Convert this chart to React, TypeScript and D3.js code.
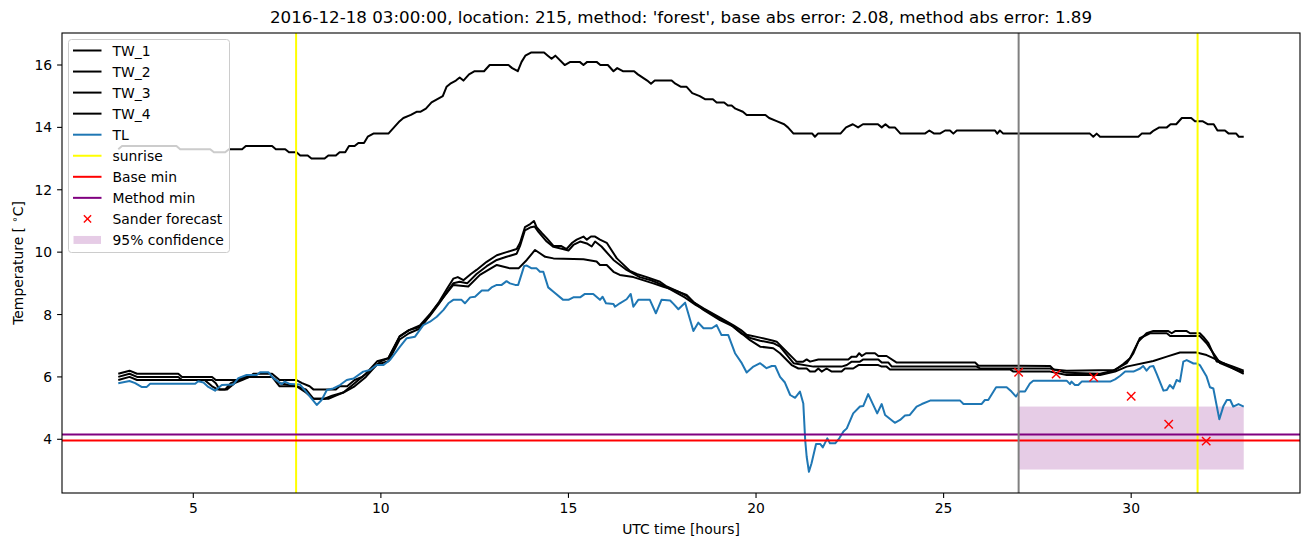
import React from "react";
import * as d3 from "d3";

// ---------- data ----------
const tw1: [number, number][] = [
  [3.0,13.3],[3.1,13.4],[4.55,13.4],[4.65,13.3],[5.45,13.3],[5.55,13.2],[5.85,13.2],[5.95,13.3],[6.3,13.3],[6.4,13.4],[7.1,13.4],[7.2,13.3],[7.45,13.3],[7.55,13.2],[7.75,13.2],[7.85,13.1],[8.05,13.1],[8.15,13.0],[8.5,13.0],[8.6,13.1],[8.8,13.1],[8.9,13.2],[9.05,13.2],[9.15,13.4],[9.3,13.4],[9.4,13.5],[9.55,13.5],[9.65,13.7],[9.8,13.8],[10.2,13.8],[10.35,14.0],[10.5,14.2],[10.6,14.3],[10.8,14.4],[10.95,14.5],[11.05,14.5],[11.2,14.6],[11.35,14.8],[11.65,15.0],[11.75,15.3],[11.85,15.4],[12.0,15.5],[12.1,15.6],[12.2,15.5],[12.35,15.7],[12.5,15.8],[12.75,15.8],[12.9,16.0],[13.4,16.0],[13.5,15.9],[13.65,15.8],[13.75,16.1],[13.85,16.3],[14.0,16.4],[14.35,16.4],[14.45,16.3],[14.55,16.2],[14.65,16.3],[14.9,16.0],[15.05,16.1],[15.3,16.1],[15.4,16.0],[15.5,16.1],[15.75,16.1],[15.85,16.0],[16.05,16.0],[16.2,15.8],[16.3,15.9],[16.45,15.8],[16.75,15.8],[16.85,15.7],[17.1,15.5],[17.2,15.4],[17.3,15.5],[17.75,15.5],[17.85,15.4],[18.0,15.3],[18.15,15.3],[18.3,15.1],[18.5,15.0],[18.65,14.9],[18.85,14.9],[18.95,14.8],[19.15,14.8],[19.25,14.7],[19.35,14.7],[19.45,14.6],[19.65,14.5],[19.75,14.4],[20.25,14.4],[20.35,14.3],[20.55,14.2],[20.75,14.1],[20.85,14.0],[21.0,13.8],[21.5,13.8],[21.57,13.7],[21.65,13.8],[22.25,13.8],[22.4,14.0],[22.58,14.1],[22.72,14.0],[22.85,14.1],[23.25,14.1],[23.35,14.0],[23.45,14.1],[23.55,14.0],[23.7,14.0],[23.85,13.8],[24.5,13.8],[24.62,13.9],[24.75,13.8],[24.9,13.8],[25.04,13.9],[25.17,13.9],[25.26,13.8],[25.35,13.9],[26.37,13.9],[26.43,13.8],[26.5,13.9],[26.59,13.8],[28.9,13.8],[28.99,13.7],[29.08,13.8],[29.17,13.7],[30.19,13.7],[30.28,13.8],[30.5,13.8],[30.6,13.9],[30.75,14.0],[30.95,14.0],[31.05,14.1],[31.2,14.1],[31.35,14.3],[31.6,14.3],[31.7,14.2],[31.9,14.2],[32.05,14.1],[32.2,14.1],[32.3,13.9],[32.5,13.9],[32.6,13.8],[32.8,13.8],[32.87,13.7],[33.0,13.7]
];

const tw2: [number, number][] = [
  [3.0,6.1],[3.3,6.2],[3.5,6.1],[4.6,6.1],[4.7,6.0],[5.5,6.0],[5.6,5.9],[6.2,5.9],[6.3,6.0],[6.5,6.0],[6.6,6.1],[7.1,6.1],[7.3,5.9],[7.75,5.9],[7.9,5.8],[8.1,5.7],[8.2,5.6],[8.8,5.6],[8.9,5.7],[9.1,5.7],[9.3,5.9],[9.5,6.0],[9.7,6.2],[9.9,6.4],[10.0,6.5],[10.2,6.6],[10.5,7.3],[10.75,7.5],[11.04,7.65],[11.3,8.0],[11.55,8.4],[11.75,8.8],[11.93,9.15],[12.05,9.2],[12.2,9.1],[12.4,9.3],[12.55,9.43],[12.82,9.69],[13.09,9.9],[13.35,10.0],[13.62,10.1],[13.71,10.3],[13.84,10.8],[13.98,10.9],[14.08,11.0],[14.15,10.8],[14.3,10.6],[14.42,10.45],[14.6,10.2],[14.8,10.2],[14.95,10.1],[15.1,10.3],[15.22,10.4],[15.4,10.5],[15.49,10.4],[15.6,10.5],[15.71,10.5],[15.84,10.4],[16.02,10.3],[16.29,9.8],[16.64,9.4],[16.82,9.3],[17.09,9.2],[17.44,9.05],[17.62,8.9],[17.9,8.75],[18.15,8.6],[18.33,8.4],[18.6,8.2],[19.04,7.9],[19.4,7.65],[19.6,7.5],[19.75,7.35],[20.11,7.26],[20.46,7.16],[20.55,7.13],[21.08,6.49],[21.26,6.49],[21.35,6.56],[21.44,6.49],[21.66,6.56],[22.46,6.56],[22.55,6.65],[22.68,6.65],[22.75,6.76],[22.82,6.67],[22.93,6.76],[23.17,6.76],[23.26,6.67],[23.48,6.67],[23.75,6.46],[25.84,6.46],[25.93,6.36],[27.84,6.35],[27.93,6.24],[28.28,6.2],[29.57,6.22],[29.79,6.41],[29.97,6.6],[30.19,7.13],[30.41,7.4],[30.59,7.47],[30.99,7.47],[31.08,7.4],[31.17,7.47],[31.48,7.47],[31.57,7.4],[31.83,7.4],[31.92,7.29],[32.06,7.08],[32.28,6.49],[32.46,6.44],[32.72,6.33],[33.0,6.2]
];

const tw3: [number, number][] = [
  [3.0,6.0],[3.3,6.1],[3.5,6.0],[4.6,6.0],[4.7,5.9],[5.5,5.9],[5.6,5.8],[5.7,5.6],[5.85,5.6],[6.0,5.8],[6.2,5.9],[6.5,6.0],[7.1,6.0],[7.3,5.8],[7.75,5.7],[8.0,5.5],[8.2,5.3],[8.6,5.3],[8.8,5.4],[9.0,5.5],[9.3,5.8],[9.6,6.1],[9.9,6.5],[10.2,6.6],[10.5,7.3],[10.75,7.5],[11.04,7.6],[11.3,7.95],[11.55,8.35],[11.75,8.7],[11.93,9.0],[12.1,9.05],[12.3,9.0],[12.55,9.3],[12.82,9.55],[13.09,9.75],[13.35,9.85],[13.62,9.95],[13.71,10.2],[13.84,10.7],[14.0,10.8],[14.1,10.82],[14.2,10.65],[14.42,10.34],[14.6,10.17],[14.85,10.1],[15.0,10.05],[15.13,10.23],[15.31,10.34],[15.49,10.28],[15.62,10.18],[15.71,10.34],[15.88,10.18],[16.2,9.75],[16.55,9.43],[16.9,9.2],[17.2,9.1],[17.5,8.95],[17.8,8.75],[18.1,8.55],[18.4,8.3],[18.7,8.1],[19.0,7.9],[19.3,7.7],[19.6,7.4],[19.85,7.25],[20.11,7.16],[20.46,7.08],[20.64,6.97],[21.0,6.44],[21.53,6.33],[22.28,6.33],[22.42,6.38],[22.55,6.49],[22.77,6.49],[22.86,6.56],[23.26,6.56],[23.35,6.46],[23.53,6.46],[23.62,6.33],[25.88,6.33],[25.97,6.27],[27.84,6.27],[28.28,6.13],[29.17,6.1],[29.52,6.2],[29.88,6.44],[30.06,6.76],[30.23,7.24],[30.5,7.4],[30.95,7.4],[31.04,7.31],[31.83,7.31],[32.01,7.08],[32.37,6.44],[32.72,6.27],[33.0,6.1]
];

const tw4: [number, number][] = [
  [3.0,5.9],[3.3,6.0],[3.5,5.9],[4.6,5.9],[5.3,5.9],[5.5,5.7],[5.65,5.6],[5.9,5.6],[6.1,5.8],[6.3,5.9],[6.5,6.0],[7.1,6.0],[7.3,5.7],[7.75,5.7],[8.0,5.6],[8.2,5.3],[8.5,5.3],[8.7,5.4],[9.0,5.5],[9.3,5.7],[9.6,6.0],[9.9,6.4],[10.2,6.5],[10.5,7.2],[10.75,7.4],[11.04,7.55],[11.5,8.3],[11.93,8.95],[12.33,8.9],[12.64,9.27],[13.09,9.59],[13.44,9.48],[13.67,9.48],[13.89,9.75],[14.11,10.07],[14.38,9.85],[14.6,9.8],[15.4,9.77],[15.75,9.7],[15.84,9.59],[16.02,9.59],[16.2,9.37],[16.37,9.27],[16.73,9.2],[17.26,9.0],[17.53,8.89],[17.8,8.79],[18.15,8.63],[18.33,8.4],[18.6,8.15],[19.04,7.82],[19.4,7.61],[19.84,7.18],[20.11,6.97],[20.46,6.92],[20.64,6.76],[20.95,6.38],[21.13,6.27],[21.35,6.27],[21.44,6.17],[21.57,6.17],[21.66,6.27],[21.75,6.17],[21.88,6.27],[22.02,6.17],[22.28,6.17],[22.37,6.27],[22.59,6.27],[22.73,6.38],[23.26,6.38],[23.35,6.33],[23.48,6.33],[23.57,6.24],[26.77,6.24],[26.86,6.17],[27.84,6.17],[28.28,6.06],[29.17,6.06],[29.57,6.17],[29.88,6.33],[30.59,6.51],[30.95,6.65],[31.3,6.78],[31.74,6.78],[32.01,6.7],[32.19,6.6],[32.46,6.44],[32.72,6.27],[33.0,6.15]
];

const tl: [number, number][] = [
  [3.0,5.8],[3.3,5.87],[3.45,5.8],[3.62,5.68],[3.76,5.68],[3.85,5.78],[5.05,5.78],[5.13,5.86],[5.27,5.82],[5.4,5.68],[5.58,5.56],[5.76,5.74],[6.07,5.76],[6.2,5.96],[6.42,6.06],[6.69,6.06],[6.78,6.15],[7.0,6.15],[7.13,5.96],[7.36,5.77],[7.44,5.85],[7.58,5.77],[7.84,5.76],[7.98,5.56],[8.29,5.1],[8.42,5.26],[8.56,5.58],[8.73,5.63],[8.91,5.74],[9.09,5.9],[9.27,5.95],[9.53,6.17],[9.71,6.22],[9.89,6.38],[10.07,6.38],[10.24,6.54],[10.51,6.97],[10.69,7.24],[10.91,7.29],[11.13,7.66],[11.31,7.77],[11.49,7.93],[11.67,8.15],[11.8,8.36],[11.93,8.47],[12.15,8.47],[12.24,8.36],[12.38,8.55],[12.51,8.57],[12.69,8.77],[12.86,8.77],[12.95,8.87],[13.09,8.95],[13.22,8.95],[13.35,9.07],[13.44,9.0],[13.58,8.95],[13.66,8.95],[13.82,9.56],[13.89,9.57],[14.02,9.48],[14.15,9.48],[14.24,9.37],[14.33,9.37],[14.46,8.87],[14.6,8.73],[14.86,8.47],[15.0,8.47],[15.13,8.55],[15.31,8.55],[15.44,8.66],[15.66,8.66],[15.84,8.47],[15.91,8.57],[16.0,8.36],[16.2,8.34],[16.24,8.25],[16.37,8.36],[16.55,8.49],[16.66,8.66],[16.73,8.25],[16.86,8.47],[17.17,8.47],[17.33,8.04],[17.48,8.47],[17.71,8.45],[17.8,8.34],[17.93,8.17],[18.11,8.38],[18.33,7.47],[18.46,7.74],[18.6,7.56],[18.82,7.56],[18.95,7.66],[19.08,7.34],[19.26,7.34],[19.44,6.76],[19.62,6.44],[19.75,6.14],[19.93,6.33],[20.11,6.44],[20.28,6.28],[20.42,6.35],[20.51,6.35],[20.64,6.0],[20.77,5.82],[20.91,5.42],[21.04,5.33],[21.17,5.53],[21.26,5.15],[21.31,3.98],[21.35,3.44],[21.41,2.96],[21.48,3.23],[21.6,3.85],[21.71,3.85],[21.78,3.74],[21.9,4.03],[21.97,3.87],[22.11,3.87],[22.22,4.03],[22.33,4.25],[22.42,4.35],[22.59,4.83],[22.77,5.05],[22.86,5.07],[22.99,5.45],[23.23,4.83],[23.35,5.13],[23.44,4.78],[23.7,4.53],[23.84,4.62],[23.97,4.76],[24.1,4.78],[24.28,5.05],[24.42,5.13],[24.64,5.24],[25.44,5.24],[25.53,5.13],[26.01,5.13],[26.1,5.26],[26.19,5.26],[26.4,5.67],[26.68,5.67],[26.81,5.53],[26.93,5.37],[27.02,5.53],[27.17,5.53],[27.3,5.79],[27.39,5.88],[28.28,5.88],[28.37,5.77],[28.41,5.85],[28.5,5.74],[28.59,5.74],[28.68,5.85],[29.44,5.85],[29.57,5.92],[29.7,6.03],[29.84,6.17],[30.06,6.17],[30.24,6.27],[30.32,6.35],[30.41,6.2],[30.5,6.33],[30.59,6.35],[30.68,6.1],[30.86,5.56],[30.95,5.58],[31.03,5.74],[31.12,5.63],[31.21,5.9],[31.3,5.85],[31.39,6.49],[31.48,6.54],[31.66,6.43],[31.75,6.43],[31.83,6.38],[32.01,6.01],[32.1,5.67],[32.19,5.63],[32.35,4.64],[32.46,5.07],[32.55,5.26],[32.64,5.26],[32.72,5.05],[32.86,5.13],[33.0,5.05]
];

const sunriseHours = [7.74, 31.77];
const forecastStartHour = 27;
const baseMin = 3.96;
const methodMin = 4.15;
const sanderHours = [27, 28, 29, 30, 31, 32];
const sanderValues = [6.15, 6.09, 5.99, 5.38, 4.48, 3.94];
const confHours = [27, 33];
const confLow = 3.03;
const confHigh = 5.05;

const xTicks = [5, 10, 15, 20, 25, 30];
const yTicks = [4, 6, 8, 10, 12, 14, 16];

const titleText =
  "2016-12-18 03:00:00, location: 215, method: 'forest', base abs error: 2.08, method abs error: 1.89";

const legendLabels = ["TW_1", "TW_2", "TW_3", "TW_4", "TL", "sunrise", "Base min", "Method min", "Sander forecast", "95% confidence"];

// ---------- layout ----------
const W = 1311;
const H = 547;
const L = 62, R = 1300, T = 33, B = 493;
const FONT = "DejaVu Sans, sans-serif";

export default function App() {
  const x = d3.scaleLinear().domain([1.5, 34.5]).range([L, R]);
  const y = d3.scaleLinear().domain([2.278, 17.026]).range([B, T]);
  const line = d3.line<[number, number]>().x((d) => x(d[0])).y((d) => y(d[1]));

  const blue = "#1f77b4";
  const lw = 2;
  const rowY = (i: number) => 50.5 + 21.05 * i;

  const xMark = (cx: number, cy: number, s: number, key: string) => (
    <g key={key} stroke="red" strokeWidth={1.4}>
      <line x1={cx - s} y1={cy - s} x2={cx + s} y2={cy + s} />
      <line x1={cx - s} y1={cy + s} x2={cx + s} y2={cy - s} />
    </g>
  );

  return (
    <svg
      width={W}
      height={H}
      style={{ position: "absolute", left: 0, top: 0, background: "#fff" }}
      fontFamily={FONT}
    >
      <rect x={0} y={0} width={W} height={H} fill="#fff" />
      <defs>
        <clipPath id="plotclip">
          <rect x={L} y={T} width={R - L} height={B - T} />
        </clipPath>
      </defs>

      <g clipPath="url(#plotclip)">
        {/* confidence band */}
        <rect
          x={x(confHours[0])}
          y={y(confHigh)}
          width={x(confHours[1]) - x(confHours[0])}
          height={y(confLow) - y(confHigh)}
          fill="purple"
          fillOpacity={0.2}
        />
        {[tw1, tw2, tw3, tw4].map((s, i) => (
          <path key={"tw" + i} d={line(s) || ""} fill="none" stroke="#000" strokeWidth={lw} strokeLinejoin="round" />
        ))}
        <path d={line(tl) || ""} fill="none" stroke={blue} strokeWidth={lw} strokeLinejoin="round" />
        {sunriseHours.map((h, i) => (
          <line key={"sr" + i} x1={x(h)} x2={x(h)} y1={T} y2={B} stroke="yellow" strokeWidth={lw} />
        ))}
        <line x1={L} x2={R} y1={y(baseMin)} y2={y(baseMin)} stroke="red" strokeWidth={lw} />
        <line x1={L} x2={R} y1={y(methodMin)} y2={y(methodMin)} stroke="purple" strokeWidth={lw} />
        <line x1={x(forecastStartHour)} x2={x(forecastStartHour)} y1={T} y2={B} stroke="gray" strokeWidth={lw} />
        {sanderHours.map((h, i) => xMark(x(h), y(sanderValues[i]), 4.2, "sf" + i))}
      </g>

      {/* axes frame */}
      <rect x={L} y={T} width={R - L} height={B - T} fill="none" stroke="#000" strokeWidth={1.1} />

      {/* x ticks */}
      {xTicks.map((t) => (
        <g key={"xt" + t}>
          <line x1={x(t)} x2={x(t)} y1={B} y2={B + 4.9} stroke="#000" strokeWidth={1.1} />
          <text x={x(t)} y={B + 9.8} dy="0.76em" textAnchor="middle" fontSize={13.9} fill="#000">
            {t}
          </text>
        </g>
      ))}
      {/* y ticks */}
      {yTicks.map((t) => (
        <g key={"yt" + t}>
          <line x1={L - 4.9} x2={L} y1={y(t)} y2={y(t)} stroke="#000" strokeWidth={1.1} />
          <text x={L - 9.8} y={y(t)} dy="0.36em" textAnchor="end" fontSize={13.9} fill="#000">
            {t}
          </text>
        </g>
      ))}

      <text x={(L + R) / 2} y={534} textAnchor="middle" fontSize={13.9} fill="#000">
        UTC time [hours]
      </text>
      <text
        transform={`translate(23, ${(T + B) / 2}) rotate(-90)`}
        textAnchor="middle"
        fontSize={13.9}
        fill="#000"
      >
        Temperature [ <tspan fontSize={10} dy={-5}>∘</tspan>
        <tspan dy={5}>C]</tspan>
      </text>

      <text x={(L + R) / 2} y={23} textAnchor="middle" fontSize={16.7} fill="#000">
        {titleText}
      </text>

      {/* legend */}
      <g>
        <rect x={68.5} y={39.5} width={161} height={213} rx={3} fill="#fff" fillOpacity={0.8} stroke="#cccccc" strokeWidth={1} />
        {legendLabels.map((lab, i) => {
          const cy = rowY(i);
          let handle: React.ReactNode = null;
          if (i < 4) handle = <line x1={73} x2={101.5} y1={cy} y2={cy} stroke="#000" strokeWidth={lw} />;
          else if (i === 4) handle = <line x1={73} x2={101.5} y1={cy} y2={cy} stroke={blue} strokeWidth={lw} />;
          else if (i === 5) handle = <line x1={73} x2={101.5} y1={cy} y2={cy} stroke="yellow" strokeWidth={lw} />;
          else if (i === 6) handle = <line x1={73} x2={101.5} y1={cy} y2={cy} stroke="red" strokeWidth={lw} />;
          else if (i === 7) handle = <line x1={73} x2={101.5} y1={cy} y2={cy} stroke="purple" strokeWidth={lw} />;
          else if (i === 8) handle = xMark(87.5, cy, 3.6, "lgx");
          else handle = <rect x={73.5} y={cy - 4} width={27.5} height={8} fill="purple" fillOpacity={0.2} />;
          return (
            <g key={"lg" + i}>
              {handle}
              <text x={112.5} y={cy} dy="0.36em" fontSize={13.9} fill="#000">
                {lab}
              </text>
            </g>
          );
        })}
      </g>
    </svg>
  );
}
